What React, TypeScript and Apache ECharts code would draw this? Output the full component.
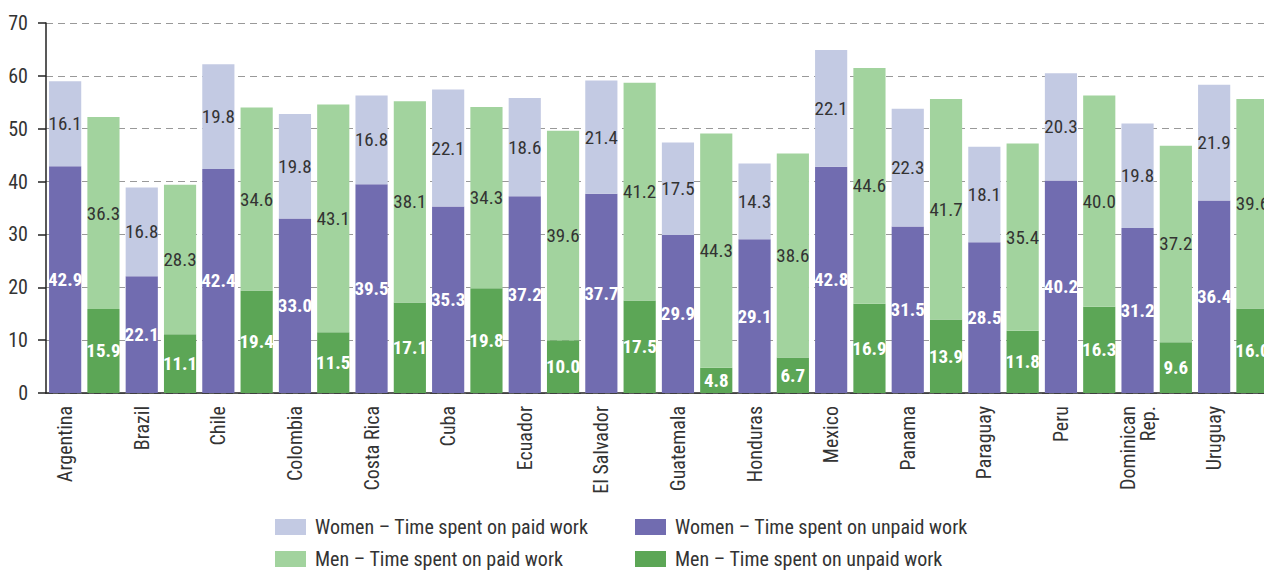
import React, { useEffect, useRef } from "react";
import * as echarts from "echarts";

const countries = [
  "Argentina", "Brazil", "Chile", "Colombia", "Costa Rica", "Cuba", "Ecuador", "El Salvador",
  "Guatemala", "Honduras", "Mexico", "Panama", "Paraguay", "Peru", "Dominican Rep.", "Uruguay",
];
const womenUnpaid = [42.9, 22.1, 42.4, 33.0, 39.5, 35.3, 37.2, 37.7, 29.9, 29.1, 42.8, 31.5, 28.5, 40.2, 31.2, 36.4];
const womenPaid = [16.1, 16.8, 19.8, 19.8, 16.8, 22.1, 18.6, 21.4, 17.5, 14.3, 22.1, 22.3, 18.1, 20.3, 19.8, 21.9];
const menUnpaid = [15.9, 11.1, 19.4, 11.5, 17.1, 19.8, 10.0, 17.5, 4.8, 6.7, 16.9, 13.9, 11.8, 16.3, 9.6, 16.0];
const menPaid = [36.3, 28.3, 34.6, 43.1, 38.1, 34.3, 39.6, 41.2, 44.3, 38.6, 44.6, 41.7, 35.4, 40.0, 37.2, 39.6];

const seriesNames = {
  wPaid: "Women – Time spent on paid work",
  wUnpaid: "Women – Time spent on unpaid work",
  mPaid: "Men – Time spent on paid work",
  mUnpaid: "Men – Time spent on unpaid work",
};

const FONT = '"Roboto Condensed", "Liberation Sans Narrow", "DejaVu Sans Condensed", Roboto, sans-serif';

const categories = countries.flatMap((c) => [c, c + "|men"]);
const womenSlot = (arr: number[]) => arr.flatMap((v) => [v, "-"]);
const menSlot = (arr: number[]) => arr.flatMap((v) => ["-", v]);

const fmt = (p: any) => (typeof p.value === "number" ? p.value.toFixed(1) : "");

export default function App() {
  const ref = useRef<HTMLDivElement>(null);
  useEffect(() => {
    if (!ref.current) return;
    const chart = echarts.init(ref.current, undefined, { renderer: "svg" });
    const darkLabel = { show: true, position: "inside", color: "#333", fontSize: 19, fontFamily: FONT, formatter: fmt };
    const whiteLabel = { show: true, position: "inside", color: "#fff", fontWeight: "bold", fontSize: 19, fontFamily: FONT, formatter: fmt };
    const common = { type: "bar", stack: "total", barCategoryGap: "16%" };
    chart.setOption({
      animation: false,
      grid: { left: 46, top: 23, width: 1225.6, height: 370 },
      xAxis: {
        type: "category",
        data: categories,
        boundaryGap: true,
        axisLine: { lineStyle: { color: "#222", width: 1.5 } },
        axisTick: { interval: 0, length: 7, lineStyle: { color: "#222", width: 1.5 } },
        axisLabel: {
          interval: 0,
          rotate: 90,
          margin: 13,
          fontSize: 20,
          color: "#333",
          fontFamily: FONT,
          formatter: (v: string) => (v.endsWith("|men") ? "" : v.replace("Dominican ", "Dominican\n")),
        },
      },
      yAxis: {
        type: "value",
        min: 0,
        max: 70,
        interval: 10,
        axisLine: { show: true, lineStyle: { color: "#222", width: 1.5 } },
        axisTick: { show: true, length: 8, lineStyle: { color: "#222", width: 1.5 } },
        axisLabel: { fontSize: 20, color: "#333", margin: 18, fontFamily: FONT },
        splitLine: { show: true, lineStyle: { color: "#999", type: [7, 5], width: 1.2 } },
      },
      legend: [
        {
          left: 275,
          top: 517,
          orient: "vertical",
          padding: 0,
          itemWidth: 31,
          itemHeight: 16,
          itemGap: 12,
          icon: "rect",
          data: [seriesNames.wPaid, seriesNames.mPaid],
          textStyle: { fontSize: 20, color: "#333", fontFamily: FONT, padding: [0, 0, 0, 4] },
        },
        {
          left: 635,
          top: 517,
          orient: "vertical",
          padding: 0,
          itemWidth: 31,
          itemHeight: 16,
          itemGap: 12,
          icon: "rect",
          data: [seriesNames.wUnpaid, seriesNames.mUnpaid],
          textStyle: { fontSize: 20, color: "#333", fontFamily: FONT, padding: [0, 0, 0, 4] },
        },
      ],
      series: [
        { ...common, name: seriesNames.wUnpaid, data: womenSlot(womenUnpaid), itemStyle: { color: "#716cb0" }, label: whiteLabel },
        { ...common, name: seriesNames.wPaid, data: womenSlot(womenPaid), itemStyle: { color: "#c3cae3" }, label: darkLabel },
        { ...common, name: seriesNames.mUnpaid, data: menSlot(menUnpaid), itemStyle: { color: "#5ca656" }, label: whiteLabel },
        { ...common, name: seriesNames.mPaid, data: menSlot(menPaid), itemStyle: { color: "#a2d39e" }, label: darkLabel },
      ],
    });
    return () => chart.dispose();
  }, []);
  return (
    <div style={{ position: "fixed", left: 0, top: 0, width: 1264, height: 571, overflow: "hidden", background: "#fff" }}>
      <div ref={ref} style={{ width: 1280, height: 571 }} />
    </div>
  );
}
